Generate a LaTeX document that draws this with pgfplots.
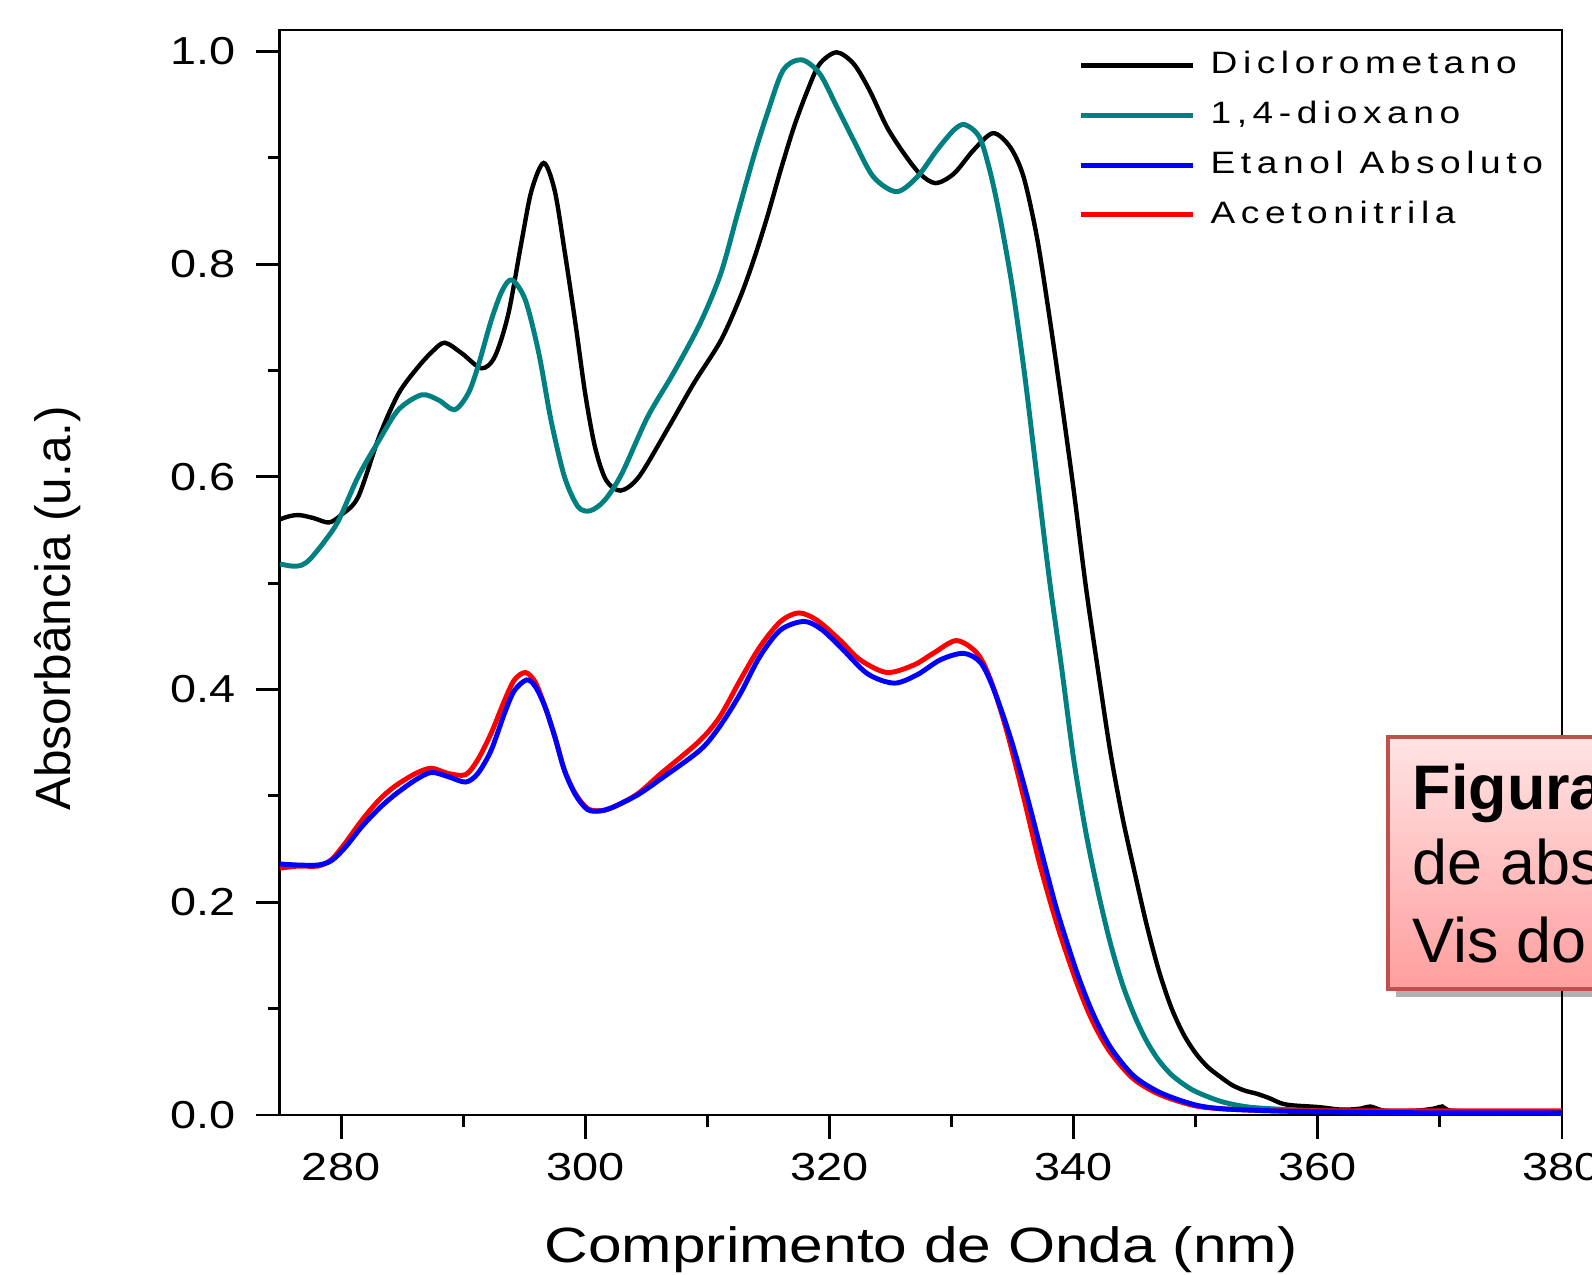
\documentclass[border=0pt]{standalone}
\usepackage{fontspec}
\setmainfont{Liberation Sans}
\newfontfamily\tickfont{Liberation Sans}[FakeStretch=1.2]
\newfontfamily\legfont{Liberation Sans}[FakeStretch=1.2,LetterSpace=18]
\newfontfamily\xlabfont{Liberation Sans}[FakeStretch=1.22]
\usepackage{pgfplots}
\pgfplotsset{compat=1.18}
\usetikzlibrary{shadows}
\definecolor{dcyan}{RGB}{0,128,128}
\definecolor{boxtop}{RGB}{255,228,228}
\definecolor{boxbot}{RGB}{255,158,158}
\definecolor{boxborder}{RGB}{192,80,77}
\begin{document}
\begin{tikzpicture}
\begin{scope}
\clip (-28mm,-16mm) rectangle (131.2mm,111.5mm);
\begin{axis}[
  scale only axis, width=128.2mm, height=108.5mm,
  xmin=275, xmax=380, ymin=0, ymax=1.02,
  xtick={280,300,320,340,360,380}, minor xtick={290,310,330,350,370},
  ytick={0,0.2,0.4,0.6,0.8,1.0}, minor ytick={0.1,0.3,0.5,0.7,0.9},
  tick pos=left, tick align=outside,
  major tick length=2.4mm, minor tick length=1.2mm,
  axis line style={line width=0.85pt, black},
  tick style={line width=0.85pt, black},
  /pgf/number format/assume math mode=true,
  yticklabel style={anchor=east, inner sep=0pt, xshift=-2mm,
    font=\tickfont\fontsize{11.1pt}{13pt}\selectfont,
    /pgf/number format/fixed, /pgf/number format/fixed zerofill,
    /pgf/number format/precision=1},
  xticklabel style={anchor=north, inner sep=0pt, yshift=-1.4mm,
    font=\tickfont\fontsize{11.1pt}{13pt}\selectfont},
  xlabel={Comprimento de Onda (nm)},
  ylabel={Absorbância (u.a.)},
  xlabel style={at={(axis description cs:0.5,-0.1355)}, anchor=base,
    font=\xlabfont\fontsize{14.1pt}{17pt}\selectfont},
  ylabel style={at={(axis description cs:-0.1732,0.467)}, anchor=center,
    font=\fontsize{14.1pt}{17pt}\selectfont},
  legend style={draw=none, fill=none, at={(axis description cs:0.6225,0.9810)},
    anchor=north west, inner sep=0pt, row sep=2.14mm, column sep=1.5mm,
    nodes={inner sep=0pt, text depth=0.6mm},
    font=\legfont\fontsize{8.8pt}{10pt}\selectfont},
  legend cell align=left,
  legend image code/.code={\draw[#1] (0mm,0mm) -- (11.2mm,0mm);},
]
\addplot[black, line width=1.25pt, smooth, tension=0.5] coordinates {
(275.0,0.560) (275.8,0.563) (276.6,0.564) (277.8,0.561) (279.0,0.557) (280.0,0.564)
(281.4,0.581) (283.1,0.637) (284.7,0.678) (286.3,0.703) (287.5,0.718) (288.5,0.726)
(289.9,0.716) (291.5,0.702) (292.6,0.713) (293.7,0.753) (294.8,0.822) (295.6,0.869)
(296.6,0.895) (297.5,0.869) (298.3,0.813) (299.2,0.744) (300.0,0.678) (300.8,0.628)
(301.7,0.597) (302.9,0.587) (304.4,0.600) (306.7,0.644) (308.9,0.688) (311.1,0.728)
(312.7,0.769) (313.8,0.804) (314.9,0.844) (316.0,0.888) (317.1,0.929) (318.2,0.963)
(319.2,0.988) (320.6,0.999) (322.0,0.988) (323.3,0.963) (324.7,0.929) (326.1,0.904)
(327.4,0.885) (328.7,0.876) (330.2,0.885) (331.8,0.907) (333.4,0.923) (334.8,0.910)
(335.9,0.882) (337.0,0.825) (338.0,0.752) (339.0,0.672) (340.0,0.588) (341.0,0.497)
(342.0,0.418) (343.0,0.342) (344.0,0.280) (345.0,0.228) (346.0,0.178) (347.0,0.135)
(348.0,0.101) (349.0,0.076) (350.0,0.058) (351.0,0.045) (352.0,0.036) (353.0,0.028)
(354.0,0.023) (355.0,0.020) (356.0,0.016) (357.0,0.011) (358.0,0.009) (360.0,0.0075)
(362.0,0.005) (363.5,0.006) (364.3,0.008) (365.5,0.004)
(368.0,0.004) (369.5,0.006) (370.2,0.008) (371.0,0.004) (375.0,0.003) (380.0,0.003)
};
\addlegendentry{Diclorometano}
\addplot[dcyan, line width=1.4pt, smooth, tension=0.5] coordinates {
(275.0,0.518) (276.0,0.516) (276.8,0.517) (277.5,0.523) (278.7,0.540) (279.8,0.559)
(281.4,0.600) (283.1,0.634) (284.7,0.663) (286.6,0.677) (288.0,0.672) (289.3,0.663)
(290.4,0.678) (291.2,0.703) (292.3,0.747) (293.2,0.775) (294.0,0.785) (295.1,0.766)
(296.2,0.716) (297.2,0.653) (298.3,0.600) (299.4,0.572) (300.4,0.568) (301.6,0.578)
(303.0,0.603) (305.1,0.656) (307.2,0.697) (309.4,0.744) (311.1,0.791) (312.4,0.844)
(313.8,0.901) (314.9,0.941) (316.2,0.982) (317.7,0.992) (319.2,0.979) (320.6,0.948)
(322.0,0.916) (323.6,0.882) (325.5,0.868) (327.2,0.882) (328.8,0.907) (330.2,0.926)
(331.1,0.931) (332.3,0.919) (333.2,0.885) (334.0,0.842) (335.0,0.777) (336.0,0.695)
(337.0,0.600) (338.0,0.505) (339.0,0.422) (340.0,0.335) (341.0,0.266) (342.0,0.210)
(343.0,0.162) (344.0,0.123) (345.0,0.093) (346.0,0.069) (347.0,0.051) (348.0,0.038)
(349.0,0.029) (350.0,0.022) (352.0,0.013) (354.0,0.008) (356.0,0.006) (360.0,0.004)
(365.0,0.003) (380.0,0.002)
};
\addlegendentry{1,4-dioxano}
\addlegendimage{blue, line width=1.4pt}
\addlegendentry{Etanol Absoluto}
\addplot[red, line width=1.4pt, smooth, tension=0.5] coordinates {
(275.0,0.232) (276.5,0.234) (278.1,0.234) (279.2,0.240) (280.3,0.255) (281.7,0.277)
(283.1,0.296) (284.4,0.309) (286.1,0.321) (287.4,0.326) (288.8,0.321) (290.2,0.320)
(291.2,0.334) (292.3,0.359) (293.4,0.390) (294.2,0.409) (295.1,0.416) (295.9,0.407)
(296.7,0.384) (297.5,0.356) (298.3,0.324) (299.2,0.302) (300.2,0.288) (301.3,0.286)
(302.4,0.290) (304.3,0.302) (306.2,0.321) (309.3,0.351) (311.0,0.374) (312.7,0.409)
(314.3,0.440) (316.0,0.464) (317.5,0.472) (319.0,0.465) (320.9,0.446) (322.5,0.428)
(324.7,0.416) (326.9,0.423) (328.5,0.434) (330.4,0.446) (332.1,0.434) (333.2,0.409)
(334.5,0.362) (335.9,0.299) (337.2,0.237) (338.7,0.177) (340.3,0.123) (341.6,0.087)
(343.0,0.059) (344.9,0.034) (347.1,0.019) (349.8,0.009) (352.0,0.006) (356.0,0.004)
(360.0,0.004) (370.0,0.004) (380.0,0.004)
};
\addlegendentry{Acetonitrila}
\addplot[blue, line width=1.4pt, smooth, tension=0.5, forget plot] coordinates {
(275.0,0.236) (276.5,0.235) (278.1,0.235) (279.2,0.239) (280.3,0.251) (281.7,0.271)
(283.1,0.288) (284.4,0.301) (286.1,0.315) (287.4,0.322) (288.8,0.318) (290.2,0.313)
(291.2,0.321) (292.3,0.343) (293.4,0.378) (294.2,0.399) (295.2,0.409) (295.9,0.403)
(296.7,0.384) (297.5,0.356) (298.3,0.324) (299.2,0.301) (300.2,0.287) (301.3,0.286)
(302.4,0.290) (304.3,0.301) (306.2,0.316) (309.4,0.343) (311.0,0.365) (312.7,0.396)
(314.3,0.431) (316.0,0.456) (317.9,0.464) (319.3,0.457) (320.9,0.440) (323.1,0.415)
(325.3,0.406) (327.2,0.414) (329.1,0.428) (331.0,0.434) (332.4,0.425) (333.5,0.399)
(334.9,0.352) (336.2,0.299) (337.6,0.237) (338.7,0.190) (340.3,0.133) (341.6,0.095)
(343.0,0.064) (344.9,0.037) (347.1,0.021) (349.8,0.010) (352.0,0.006) (356.0,0.004)
(360.0,0.003) (370.0,0.002) (380.0,0.002)
};
\end{axis}
\draw[boxborder, line width=0.9pt, top color=boxtop, bottom color=boxbot,
  drop shadow={shadow xshift=0.8mm, shadow yshift=-0.8mm, fill=black, opacity=0.3}]
  (110.8mm,12.6mm) rectangle (165mm,37.8mm);
\node[anchor=base west, inner sep=0pt, font=\fontsize{17.9pt}{21pt}\selectfont\bfseries] at (113.2mm,30.5mm) {Figura};
\node[anchor=base west, inner sep=0pt, font=\fontsize{17.9pt}{21pt}\selectfont] at (113.2mm,23.0mm) {de abs};
\node[anchor=base west, inner sep=0pt, font=\fontsize{17.9pt}{21pt}\selectfont] at (113.2mm,15.2mm) {Vis do};
\end{scope}
\pgfresetboundingbox
\useasboundingbox (-28mm,-16mm) rectangle (131.2mm,111.5mm);
\end{tikzpicture}
\end{document}
